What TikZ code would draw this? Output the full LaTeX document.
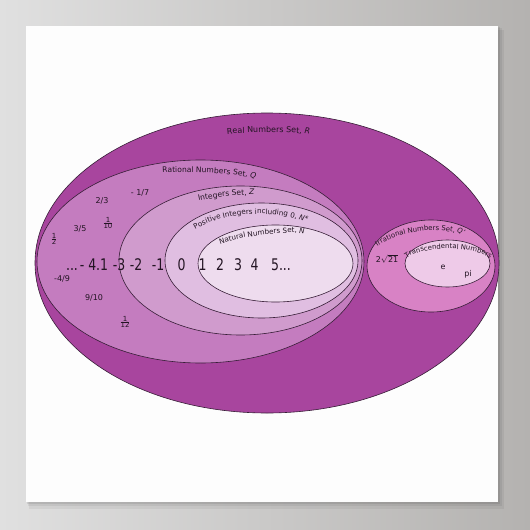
\documentclass[tikz,border=0pt]{standalone}
\usepackage{fontspec}
\setmainfont{DejaVu Sans}
\newfontfamily\numfam[FakeStretch=0.78]{DejaVu Sans}
\usetikzlibrary{decorations.text,shapes.geometric}
\definecolor{realc}{RGB}{168,69,158}
\definecolor{ratc}{RGB}{196,124,191}
\definecolor{intc}{RGB}{208,155,205}
\definecolor{posc}{RGB}{224,190,225}
\definecolor{natc}{RGB}{238,220,238}
\definecolor{irrc}{RGB}{216,130,197}
\definecolor{trac}{RGB}{238,202,232}
\definecolor{edgec}{RGB}{55,30,55}
\definecolor{txtc}{RGB}{35,20,35}
\definecolor{bgl}{RGB}{224,224,224}
\definecolor{bgr}{RGB}{180,178,176}
\definecolor{posterc}{RGB}{253,253,253}
\newcommand\lblA{\fontsize{8}{9}\selectfont}
\newcommand\lblB{\fontsize{7.6}{9}\selectfont}
\newcommand\lblC{\fontsize{7.2}{9}\selectfont}
\newcommand\lblD{\fontsize{6.9}{8}\selectfont}
\newcommand\numf{\numfam\fontsize{16}{18}\selectfont}
\newcommand\myfr[2]{$\frac{\mbox{#1}}{\mbox{#2}}$}
\begin{document}
\begin{tikzpicture}[x=1pt,y=-1pt,
  setbox/.style={ellipse, draw=edgec, line width=0.6pt, inner sep=0pt, outer sep=0pt},
  numtxt/.style={font=\numf, text=txtc, anchor=base, inner sep=0pt},
  smalltxt/.style={font=\fontsize{8}{9}\selectfont, text=txtc, inner sep=0pt},
  fractxt/.style={font=\fontsize{7}{8}\selectfont, text=txtc, inner sep=0pt},
  curvlbl/.style={decorate, decoration={text along path, text align=center, text color=txtc, text={#1}}}
]
\useasboundingbox (0,0) rectangle (530,530);
\shade[left color=bgl, right color=bgr] (0,0) rectangle (530,530);
\fill[black, opacity=0.05] (29,30) rectangle (504,509);
\fill[black, opacity=0.06] (28,28) rectangle (502,506);
\fill[black, opacity=0.08] (27,27) rectangle (500,504);
\fill[posterc] (26,26) rectangle (498,502);

% sets
\node[setbox, fill=realc, minimum width=464pt, minimum height=300pt] (R) at (267,263) {};
\node[setbox, fill=ratc, minimum width=327pt, minimum height=203pt] (Q) at (200.5,261.5) {};
\node[setbox, fill=intc, minimum width=243pt, minimum height=149pt] (Z) at (240.5,260.5) {};
\node[setbox, fill=posc, minimum width=193pt, minimum height=115pt] (Np) at (261.5,260.5) {};
\node[setbox, fill=natc, minimum width=155pt, minimum height=77pt] (N) at (275.5,263.5) {};
\node[setbox, fill=irrc, minimum width=128pt, minimum height=92pt] (I) at (431,266) {};
\node[setbox, fill=trac, minimum width=85pt, minimum height=47pt] (T) at (447.5,263.5) {};

% curved set labels
\path[curvlbl={|\lblA|Real Numbers Set{,} |\lblA\itshape|R}] (220,135) .. controls (250,131.5) and (285,131.5) .. (317,135);
\path[curvlbl={|\lblB|Rational Numbers Set{,} |\lblB\itshape|Q}] (155,173) .. controls (190,171) and (228,172) .. (263,180);
\path[curvlbl={|\lblB|Integers Set{,} |\lblB\itshape|Z}] (193,202) .. controls (214,197.5) and (236,194.5) .. (260,195);
\path[shift={(259,263)}, curvlbl={|\lblC|Positive Integers including 0{,} |\lblC\itshape|N*}] (-158:88 and 49) arc[start angle=-158, end angle=-38, x radius=88, y radius=49];
\path[curvlbl={|\lblC|Natural Numbers Set{,} |\lblC\itshape|N}] (212,247) .. controls (235,238) and (275,230) .. (313,234);
\path[curvlbl={|\lblD|Irrational Numbers Set{,} |\lblD\itshape|Q'}] (371,253) .. controls (386,232) and (440,223) .. (473,238);
\path[curvlbl={|\lblD|Transcendental Numbers}] (403,263) .. controls (411,244) and (485,244) .. (494,263);

% number line
\node[numtxt] (ndots) at (72,270) {...};
\node[numtxt] (nm41) at (94,270) {- 4.1};
\node[numtxt] (nm3) at (119,270) {-3};
\node[numtxt] (nm2) at (136,270) {-2};
\node[numtxt] (nm1) at (158,270) {-1};
\node[numtxt] (n0) at (181.5,270) {0};
\node[numtxt] (n1) at (202.5,270) {1};
\node[numtxt] (n2) at (220,270) {2};
\node[numtxt] (n3) at (238,270) {3};
\node[numtxt] (n4) at (254.5,270) {4};
\node[numtxt] (n5) at (281,270) {5...};

% rationals
\node[smalltxt] (q17) at (140,193) {- 1/7};
\node[smalltxt] (q23) at (102,201) {2/3};
\node[smalltxt] (q35) at (80,229) {3/5};
\node[fractxt] (q110) at (108,223) {\myfr{1}{10}};
\node[fractxt] (q12) at (54,239) {\myfr{1}{2}};
\node[smalltxt] (q49) at (62,279) {-4/9};
\node[smalltxt] (q910) at (94,298) {9/10};
\node[fractxt] (q112) at (125,322) {\myfr{1}{12}};

% irrationals
\node[smalltxt] (r21) at (387,259) {\mbox{2}$\sqrt{\mbox{21}}$};
\node[smalltxt] (te) at (443,267) {e};
\node[smalltxt] (tpi) at (468,274) {pi};
\end{tikzpicture}
\end{document}
